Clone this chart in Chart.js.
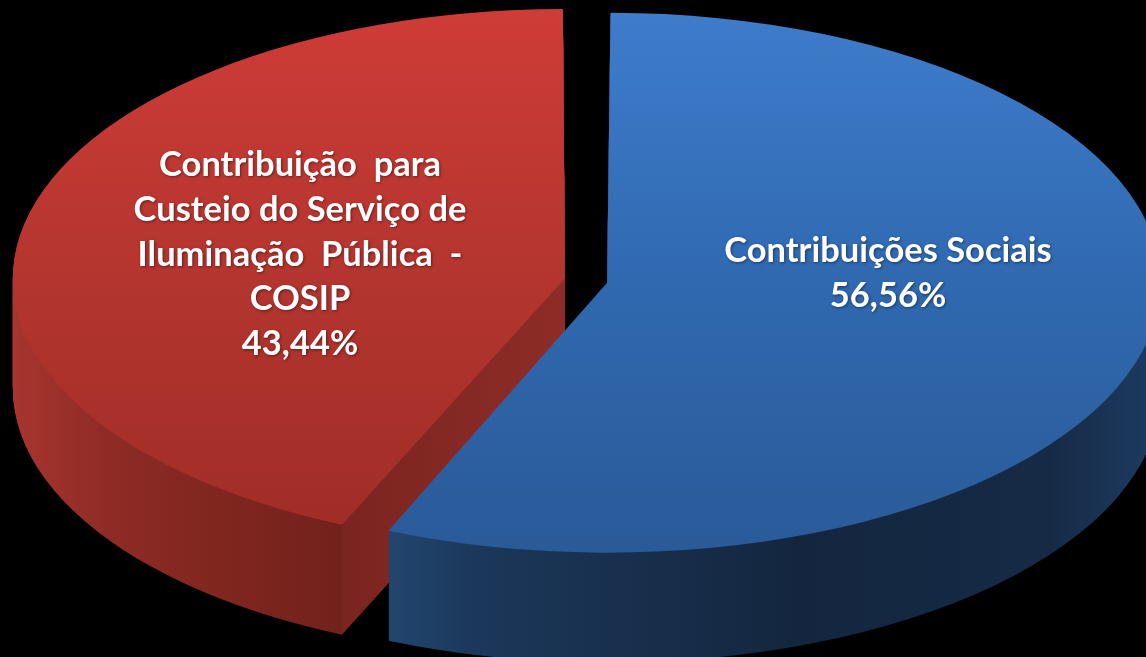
<!DOCTYPE html>
<html><head><meta charset="utf-8">
<style>html,body{margin:0;padding:0;background:#000;overflow:hidden}canvas{display:block}</style>
<script src="https://cdn.jsdelivr.net/npm/chart.js@4"></script>
</head><body>
<canvas id="c" width="1146" height="657"></canvas>
<script>
const categories = ["Contribuições Sociais", "Contribuição para Custeio do Serviço de Iluminação Pública - COSIP"];
const shares = [56.56, 43.44];
const labelLines = [
  ["Contribuições Sociais", "56,56%"],
  ["Contribuição  para", "Custeio do Serviço de", "Iluminação  Pública  -", "COSIP", "43,44%"]
];
const labelAnchors = [[888, 251], [300, 165]];
const LINE_H = 44.7, DEPTH = 110, SX = 2.05, CX = 586, RED_RADIUS_BUMP = 3.5;

const canvas = document.getElementById('c');
const g = canvas.getContext('2d');
const pieX = x => CX + (x - CX) / SX;
function vgrad(stops){const l=g.createLinearGradient(0,8,0,552);stops.forEach(s=>l.addColorStop(s[0],s[1]));return l;}
function hgrad(stops,shift){const a=pieX(-shift),b=pieX(1146-shift);const l=g.createLinearGradient(a,0,b,0);stops.forEach(s=>l.addColorStop(s[0]/1146,s[1]));return l;}
const topFill = [
  vgrad([[0,'#3e7ccc'],[0.5,'#3069b0'],[1,'#2a5a98']]),
  vgrad([[0,'#cf3c37'],[0.5,'#b4352f'],[1,'#9f2c27']])
];
const wallFill = [
  hgrad([[387,'#22466f'],[480,'#1b3759'],[800,'#14263f'],[1050,'#162a46'],[1146,'#1c3a5f']],21),
  hgrad([[13,'#a8352f'],[110,'#8e2b25'],[220,'#80261f'],[341,'#73211c'],[345,'#7b2520'],[565,'#8e2c27']],-21)
];

const pie3d = {
  id:'pie3d',
  afterDatasetsUpdate(chart){
    chart.getDatasetMeta(0).data[1].outerRadius += RED_RADIUS_BUMP;
  },
  beforeDatasetsDraw(chart){
    const ctx=chart.ctx, arcs=chart.getDatasetMeta(0).data;
    const cx=arcs[0].x;
    ctx.save();
    ctx.translate(cx,0);ctx.scale(SX,1);ctx.translate(-cx,0);
    [1,0].forEach(i=>{
      const a=arcs[i];
      const wall=Object.create(a);
      const o=Object.create(a.options);
      Object.defineProperty(o,'backgroundColor',{value:wallFill[i]});
      Object.defineProperty(wall,'options',{value:o});
      for(let d=DEPTH;d>=1;d-=1){
        ctx.save();ctx.translate(0,d);wall.draw(ctx);ctx.restore();
      }
    });
  },
  afterDatasetsDraw(chart){
    const ctx=chart.ctx;
    ctx.restore();
    ctx.save();
    ctx.textAlign='center';ctx.textBaseline='middle';
    ctx.font='bold 34.5px Lato';ctx.fillStyle='#ffffff';
    ctx.shadowColor='rgba(0,0,0,.45)';ctx.shadowBlur=3;ctx.shadowOffsetX=1;ctx.shadowOffsetY=1;
    labelLines.forEach((lines,i)=>lines.forEach((t,k)=>ctx.fillText(t,labelAnchors[i][0],labelAnchors[i][1]+k*LINE_H)));
    ctx.restore();
  }
};

new Chart(canvas,{
  type:'pie',
  data:{labels:categories,datasets:[{data:shares,backgroundColor:topFill,borderWidth:0,offset:42,clip:false}]},
  options:{
    responsive:false,animation:false,radius:259.5,
    layout:{padding:{left:26,bottom:96}},
    plugins:{legend:{display:false},tooltip:{enabled:false},title:{display:false}}
  },
  plugins:[pie3d]
});
</script>
</body></html>
